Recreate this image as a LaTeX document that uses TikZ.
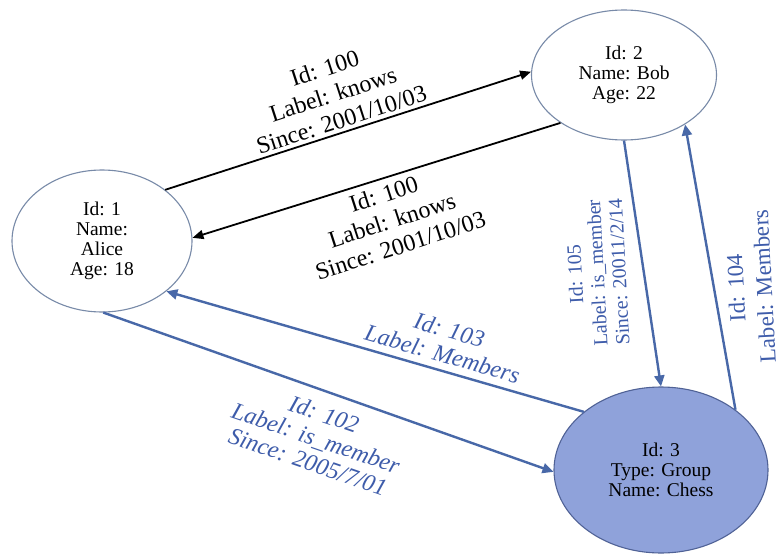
\documentclass[tikz,border=0pt]{standalone}
\usepackage{fontspec}
\setmainfont{Liberation Serif}
\usetikzlibrary{shapes.geometric,arrows.meta}
\definecolor{edgeblue}{RGB}{72,104,168}
\definecolor{txtblue}{RGB}{62,92,170}
\definecolor{chessfill}{RGB}{143,162,218}
\definecolor{rimgray}{RGB}{120,138,168}
\definecolor{chessrim}{RGB}{80,98,150}
\begin{document}
\begin{tikzpicture}[x=1pt,y=-1pt,
  vertex/.style={ellipse, draw=rimgray, line width=1.1pt, inner sep=0pt, align=center,
    font=\fontsize{19.5}{20}\selectfont},
  blackedge/.style={draw=black, line width=1.8pt, -{Triangle[length=11pt,width=9pt]}},
  blueedge/.style={draw=edgeblue, line width=2.4pt, -{Triangle[length=11pt,width=10pt]}},
  blklabel/.style={align=center, inner sep=0pt, font=\fontsize{24}{27}\selectfont},
  bluelabel/.style={align=center, inner sep=0pt, text=txtblue, font=\fontsize{24}{25}\selectfont\itshape},
  sidelabel/.style={align=center, inner sep=0pt, text=txtblue}]
\useasboundingbox (0,0) rectangle (779,554);
\fill[white] (0,0) rectangle (779,554);
\node[vertex, minimum width=180pt, minimum height=142pt] (alice) at (102,241)
  {Id: 1\\Name:\\Alice\\Age: 18};
\node[vertex, minimum width=185pt, minimum height=130pt] (bob) at (624,75)
  {Id: 2\\Name: Bob\\Age: 22};
\node[vertex, fill=chessfill, draw=chessrim, minimum width=214pt, minimum height=166pt] (chess) at (661,470)
  {Id: 3\\Type: Group\\Name: Chess};
\draw[blackedge] (alice.39) -- (bob.178);
\draw[blackedge] (bob.217) -- (alice.2);
\draw[blueedge] (chess.143) -- (alice.-38);
\draw[blueedge] (alice.271) -- (chess.181);
\draw[blueedge] (bob.270) -- (chess.90);
\draw[blueedge] (chess.39) -- (bob.-39);
\node[blklabel, rotate=18] (l100a) at (333,94) {Id: 100\\Label: knows\\Since: 2001/10/03};
\node[blklabel, rotate=18] (l100b) at (392,220) {Id: 100\\Label: knows\\Since: 2001/10/03};
\node[bluelabel, rotate=-16] (l103) at (446,342) {Id: 103\\Label: Members};
\node[bluelabel, rotate=-19] (l102) at (316,438) {Id: 102\\Label: is\_member\\Since: 2005/7/01};
\node[sidelabel, rotate=93, font=\fontsize{20}{22}\selectfont] (l105) at (597,273)
  {Id: 105\\Label: is\_member\\Since: 20011/2/14};
\node[sidelabel, rotate=93, font=\fontsize{23}{28}\selectfont] (l104) at (750,287)
  {Id: 104\\Label: Members};
\end{tikzpicture}
\end{document}
